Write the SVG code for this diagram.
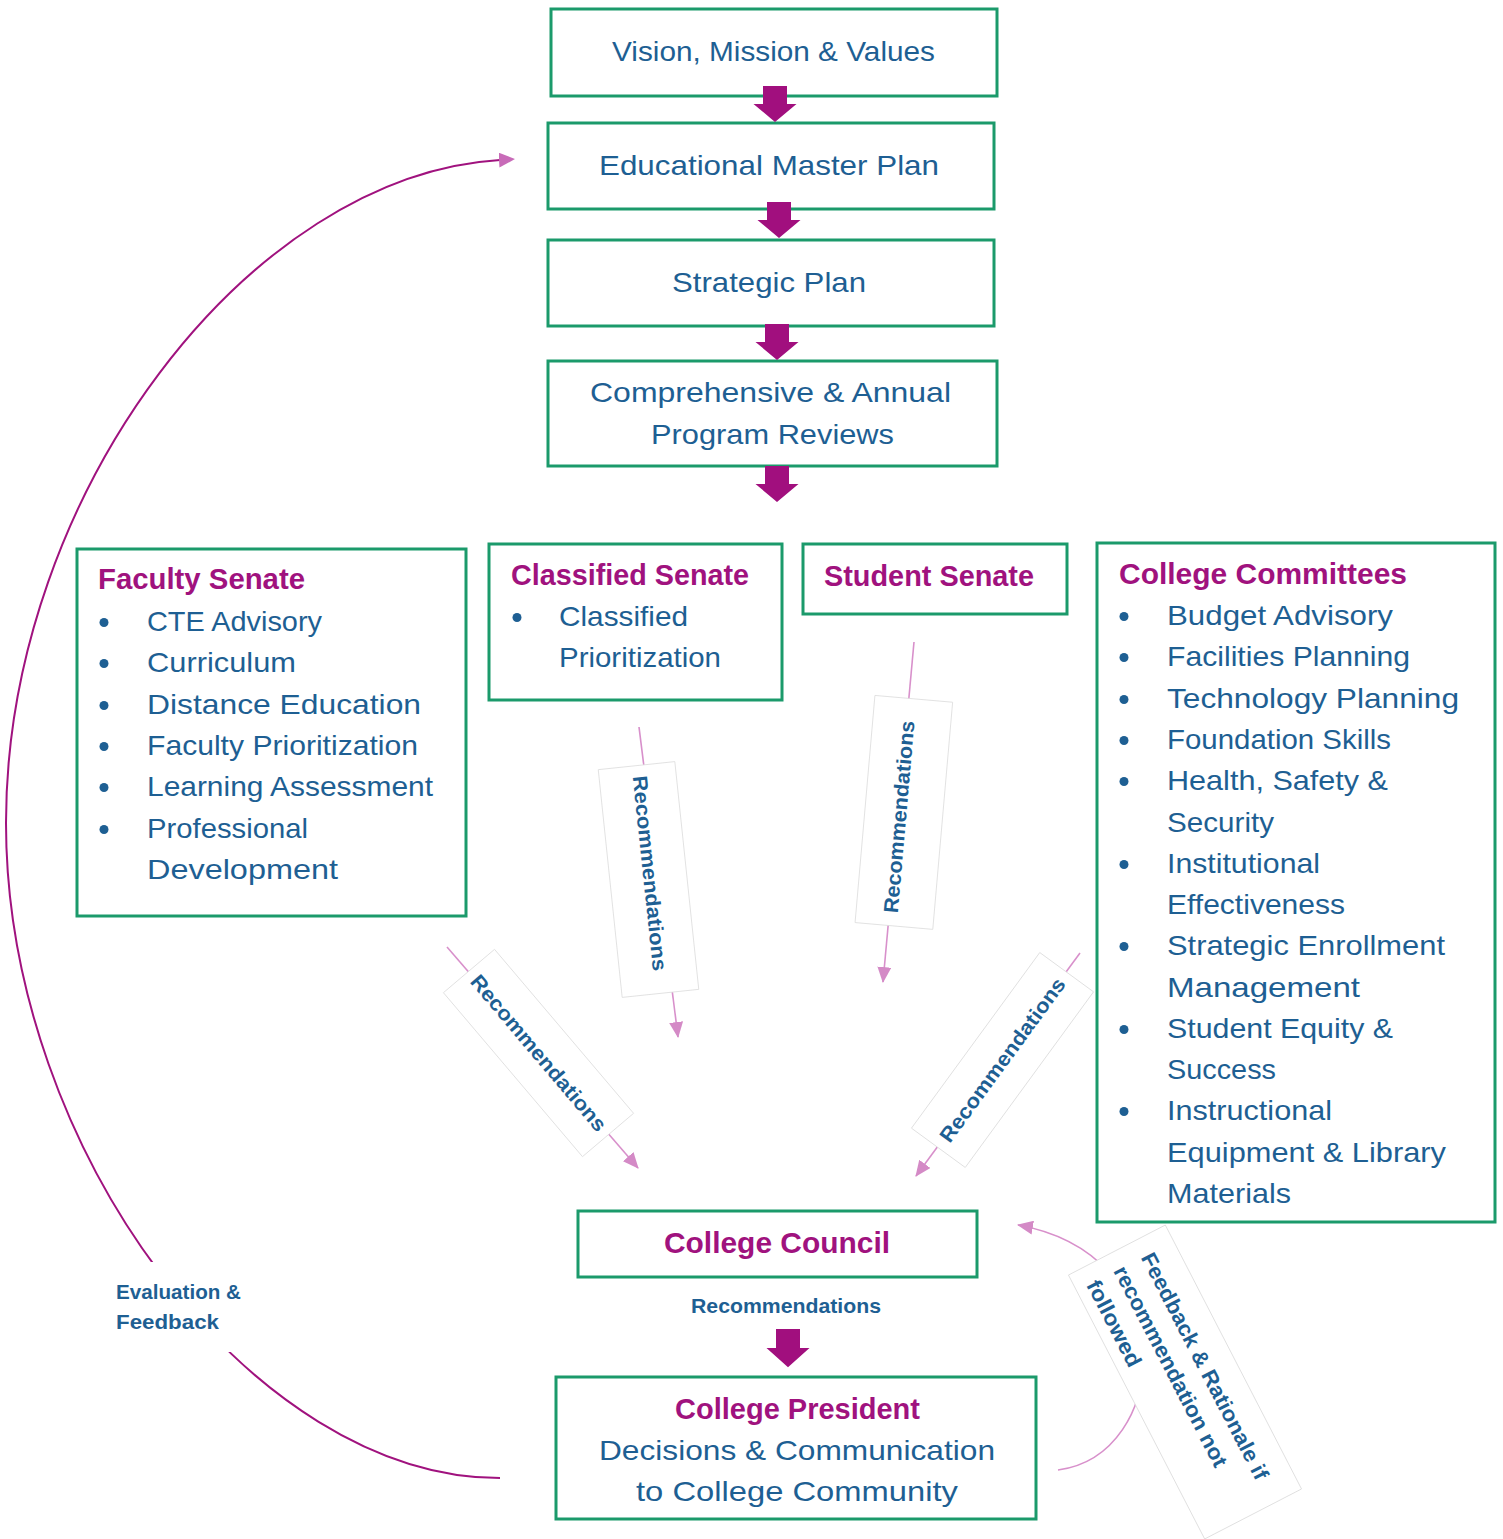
<svg xmlns="http://www.w3.org/2000/svg" width="1503" height="1539" viewBox="0 0 1503 1539">
<style>
.box{fill:#fff;stroke:#1b9a6b;stroke-width:3}
.t{font-family:"Liberation Sans",Arial,sans-serif;font-size:28.5px;fill:#1e5f93}
.c{text-anchor:middle}
.h{font-family:"Liberation Sans",Arial,sans-serif;font-weight:bold;font-size:29px;fill:#a0127e}
.lb{font-family:"Liberation Sans",Arial,sans-serif;font-weight:bold;font-size:20.5px;fill:#1e5f93}
.blk{fill:#a10f7e}
.con{fill:none;stroke:#d890cb;stroke-width:1.6}
.arc{fill:none;stroke:#a0127e;stroke-width:2}
.lbox{fill:#fff;stroke:#dcdcdc;stroke-width:0.8}
.dot{fill:#1e5f93}
</style>
<defs>
<marker id="ah" viewBox="0 0 16 14" refX="15" refY="7" markerWidth="16" markerHeight="14" markerUnits="userSpaceOnUse" orient="auto"><path d="M0 0 L16 7 L0 14 Z" fill="#d48ac6"/></marker>
<marker id="ah2" viewBox="0 0 16 15" refX="1" refY="7.5" markerWidth="16" markerHeight="15" markerUnits="userSpaceOnUse" orient="auto"><path d="M0 0 L16 7.5 L0 15 Z" fill="#c86bb8"/></marker>
<path id="ba" d="M-12 0 H12 V18 H21.5 L0 36 L-21.5 18 H-12 Z"/>
</defs>

<g id="n-vision">
<rect class="box" x="551" y="9" width="446" height="87"/>
<text class="t c" x="773.5" y="61" textLength="323" lengthAdjust="spacingAndGlyphs">Vision, Mission &amp; Values</text>
</g>
<g id="n-emp">
<rect class="box" x="548" y="123" width="446" height="86"/>
<text class="t c" x="769" y="174.5" textLength="340" lengthAdjust="spacingAndGlyphs">Educational Master Plan</text>
</g>
<g id="n-strategic">
<rect class="box" x="548" y="240" width="446" height="86"/>
<text class="t c" x="769" y="292" textLength="194" lengthAdjust="spacingAndGlyphs">Strategic Plan</text>
</g>
<g id="n-review">
<rect class="box" x="548" y="361" width="449" height="105"/>
<text class="t c" x="770.5" y="402" textLength="361" lengthAdjust="spacingAndGlyphs">Comprehensive &amp; Annual</text>
<text class="t c" x="772.5" y="444" textLength="243" lengthAdjust="spacingAndGlyphs">Program Reviews</text>
</g>

<g id="n-faculty">
<rect class="box" x="77" y="549" width="389" height="367"/>
<text class="h" x="98" y="589" textLength="207" lengthAdjust="spacingAndGlyphs">Faculty Senate</text>
<circle class="dot" cx="104" cy="622.5" r="4.5"/>
<circle class="dot" cx="104" cy="663.5" r="4.5"/>
<circle class="dot" cx="104" cy="705.5" r="4.5"/>
<circle class="dot" cx="104" cy="746.5" r="4.5"/>
<circle class="dot" cx="104" cy="787.5" r="4.5"/>
<circle class="dot" cx="104" cy="829.5" r="4.5"/>
<text class="t" x="147" y="631" textLength="175" lengthAdjust="spacingAndGlyphs">CTE Advisory</text>
<text class="t" x="147" y="672" textLength="149" lengthAdjust="spacingAndGlyphs">Curriculum</text>
<text class="t" x="147" y="714" textLength="274" lengthAdjust="spacingAndGlyphs">Distance Education</text>
<text class="t" x="147" y="755" textLength="271" lengthAdjust="spacingAndGlyphs">Faculty Prioritization</text>
<text class="t" x="147" y="796" textLength="286" lengthAdjust="spacingAndGlyphs">Learning Assessment</text>
<text class="t" x="147" y="838" textLength="161" lengthAdjust="spacingAndGlyphs">Professional</text>
<text class="t" x="147" y="879" textLength="191" lengthAdjust="spacingAndGlyphs">Development</text>
</g>

<g id="n-classified">
<rect class="box" x="489" y="544" width="293" height="156"/>
<text class="h" x="511" y="584.5" textLength="238" lengthAdjust="spacingAndGlyphs">Classified Senate</text>
<circle class="dot" cx="517" cy="617.5" r="4.5"/>
<text class="t" x="559" y="626" textLength="129" lengthAdjust="spacingAndGlyphs">Classified</text>
<text class="t" x="559" y="667" textLength="162" lengthAdjust="spacingAndGlyphs">Prioritization</text>
</g>

<g id="n-student">
<rect class="box" x="803" y="544" width="264" height="70"/>
<text class="h" x="824" y="585.5" textLength="210" lengthAdjust="spacingAndGlyphs">Student Senate</text>
</g>

<g id="n-committees">
<rect class="box" x="1097" y="543" width="398" height="679"/>
<text class="h" x="1119" y="584" textLength="288" lengthAdjust="spacingAndGlyphs">College Committees</text>
<circle class="dot" cx="1124" cy="616.5" r="4.5"/>
<circle class="dot" cx="1124" cy="657.5" r="4.5"/>
<circle class="dot" cx="1124" cy="699.5" r="4.5"/>
<circle class="dot" cx="1124" cy="740.5" r="4.5"/>
<circle class="dot" cx="1124" cy="781.5" r="4.5"/>
<circle class="dot" cx="1124" cy="864.5" r="4.5"/>
<circle class="dot" cx="1124" cy="946.5" r="4.5"/>
<circle class="dot" cx="1124" cy="1029.5" r="4.5"/>
<circle class="dot" cx="1124" cy="1111.5" r="4.5"/>
<text class="t" x="1167" y="625" textLength="226" lengthAdjust="spacingAndGlyphs">Budget Advisory</text>
<text class="t" x="1167" y="666" textLength="243" lengthAdjust="spacingAndGlyphs">Facilities Planning</text>
<text class="t" x="1167" y="708" textLength="292" lengthAdjust="spacingAndGlyphs">Technology Planning</text>
<text class="t" x="1167" y="749" textLength="224" lengthAdjust="spacingAndGlyphs">Foundation Skills</text>
<text class="t" x="1167" y="790" textLength="221" lengthAdjust="spacingAndGlyphs">Health, Safety &amp;</text>
<text class="t" x="1167" y="832" textLength="107" lengthAdjust="spacingAndGlyphs">Security</text>
<text class="t" x="1167" y="873" textLength="153" lengthAdjust="spacingAndGlyphs">Institutional</text>
<text class="t" x="1167" y="914" textLength="178" lengthAdjust="spacingAndGlyphs">Effectiveness</text>
<text class="t" x="1167" y="955" textLength="278" lengthAdjust="spacingAndGlyphs">Strategic Enrollment</text>
<text class="t" x="1167" y="997" textLength="193" lengthAdjust="spacingAndGlyphs">Management</text>
<text class="t" x="1167" y="1038" textLength="226" lengthAdjust="spacingAndGlyphs">Student Equity &amp;</text>
<text class="t" x="1167" y="1079" textLength="109" lengthAdjust="spacingAndGlyphs">Success</text>
<text class="t" x="1167" y="1120" textLength="165" lengthAdjust="spacingAndGlyphs">Instructional</text>
<text class="t" x="1167" y="1162" textLength="279" lengthAdjust="spacingAndGlyphs">Equipment &amp; Library</text>
<text class="t" x="1167" y="1203" textLength="124" lengthAdjust="spacingAndGlyphs">Materials</text>
</g>

<g id="n-council">
<rect class="box" x="578" y="1211" width="399" height="66"/>
<text class="h c" x="777" y="1252.5" style="font-size:30px" textLength="226" lengthAdjust="spacingAndGlyphs">College Council</text>
</g>

<g id="n-president">
<rect class="box" x="556" y="1377" width="480" height="142"/>
<text class="h c" x="797.5" y="1418.5" style="font-size:30px" textLength="245" lengthAdjust="spacingAndGlyphs">College President</text>
<text class="t c" x="797" y="1460" textLength="396" lengthAdjust="spacingAndGlyphs">Decisions &amp; Communication</text>
<text class="t c" x="797" y="1501" textLength="322" lengthAdjust="spacingAndGlyphs">to College Community</text>
</g>

<g id="connectors">
<path class="arc" d="M500 1478 C253 1478 6 1151 6 823 C6 493 250 175 500 160" marker-end="url(#ah2)"/>
<line class="con" x1="447" y1="947" x2="638" y2="1168" marker-end="url(#ah)"/>
<line class="con" x1="639" y1="727" x2="678" y2="1037" marker-end="url(#ah)"/>
<line class="con" x1="914" y1="642" x2="883" y2="982" marker-end="url(#ah)"/>
<line class="con" x1="1080" y1="953" x2="916" y2="1176" marker-end="url(#ah)"/>
<path class="con" d="M1058 1470 C1170 1455 1185 1255 1018 1225" marker-end="url(#ah)"/>
<use href="#ba" class="blk" transform="translate(775,86)"/>
<use href="#ba" class="blk" transform="translate(779,202)"/>
<use href="#ba" class="blk" transform="translate(777,324)"/>
<use href="#ba" class="blk" transform="translate(777,466)"/>
<use href="#ba" class="blk" transform="translate(788,1329) scale(1,1.06)"/>
</g>

<g id="lbl-faculty" transform="translate(538.5,1053) rotate(49.7)">
<rect class="lbox" x="-107.5" y="-33.5" width="215" height="67"/>
<text class="lb c" x="0" y="7" textLength="198" lengthAdjust="spacingAndGlyphs">Recommendations</text>
</g>
<g id="lbl-classified" transform="translate(648.5,879.5) rotate(84)">
<rect class="lbox" x="-114.5" y="-38.5" width="229" height="77"/>
<text class="lb c" x="-6" y="5" textLength="196" lengthAdjust="spacingAndGlyphs">Recommendations</text>
</g>
<g id="lbl-student" transform="translate(903.85,812.4) rotate(-85)">
<rect class="lbox" x="-114" y="-39" width="228" height="78"/>
<text class="lb c" x="-4.7" y="2.7" textLength="193" lengthAdjust="spacingAndGlyphs">Recommendations</text>
</g>
<g id="lbl-committees" transform="translate(1002.5,1060) rotate(-53.85)">
<rect class="lbox" x="-108.75" y="-33.3" width="217.5" height="66.6"/>
<text class="lb c" x="0" y="7" textLength="198" lengthAdjust="spacingAndGlyphs">Recommendations</text>
</g>
<g id="lbl-feedback" transform="translate(1185,1382) rotate(62.7)">
<rect class="lbox" x="-148.5" y="-54.5" width="297" height="109"/>
<text class="lb" x="-131" y="-17.5" style="font-size:21.5px" textLength="252" lengthAdjust="spacingAndGlyphs">Feedback &amp; Rationale if</text>
<text class="lb" x="-132" y="13" style="font-size:21.5px" textLength="223" lengthAdjust="spacingAndGlyphs">recommendation not</text>
<text class="lb" x="-132" y="43.5" style="font-size:21.5px" textLength="95" lengthAdjust="spacingAndGlyphs">followed</text>
</g>
<g id="lbl-council">
<text class="lb c" x="786" y="1313" textLength="190" lengthAdjust="spacingAndGlyphs">Recommendations</text>
</g>
<g id="lbl-evaluation">
<rect x="108" y="1262" width="142" height="90" fill="#fff"/>
<text class="lb" x="116" y="1299" textLength="125" lengthAdjust="spacingAndGlyphs">Evaluation &amp;</text>
<text class="lb" x="116" y="1329" textLength="103" lengthAdjust="spacingAndGlyphs">Feedback</text>
</g>
</svg>
